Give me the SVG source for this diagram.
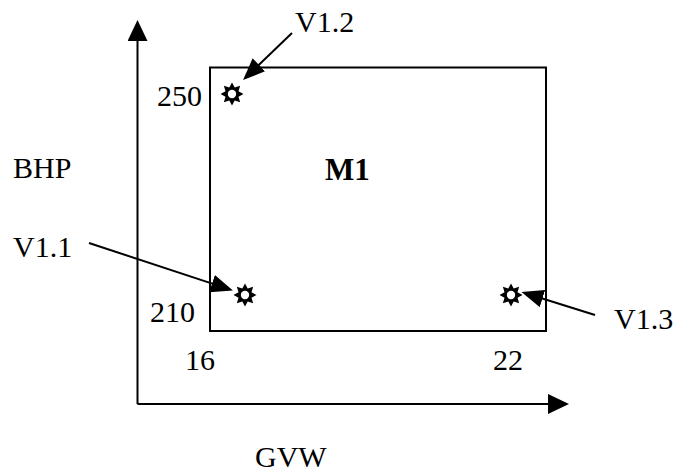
<svg xmlns="http://www.w3.org/2000/svg" xmlns:xlink="http://www.w3.org/1999/xlink" width="681" height="475" viewBox="0 0 681 475">
<style>
text{font-family:"Liberation Serif","Times New Roman",serif;font-size:30px;fill:#000}
.b{font-weight:bold;font-size:31px}
.ax{stroke:#000;stroke-width:2;fill:none}
.ar{stroke:#000;stroke-width:2;fill:none}
</style>
<defs>
<marker id="axh" markerUnits="userSpaceOnUse" markerWidth="21" markerHeight="20" refX="1" refY="10" orient="auto">
<path d="M0,0 L21,10 L0,20 Z" fill="#000"/>
</marker>
<marker id="ah" markerUnits="userSpaceOnUse" markerWidth="22" markerHeight="18" refX="1" refY="9" orient="auto">
<path d="M0,0 L22,9 L0,18 Z" fill="#000"/>
</marker>
<g id="star">
<polygon points="11.5,0 6.5,2.7 8.13,8.13 2.7,6.5 0,11.5 -2.7,6.5 -8.13,8.13 -6.5,2.7 -11.5,0 -6.5,-2.7 -8.13,-8.13 -2.7,-6.5 0,-11.5 2.7,-6.5 8.13,-8.13 6.5,-2.7" fill="#000"/>
<circle r="4.2" fill="#fff"/>
</g>
</defs>
<g id="axes">
<line class="ax" x1="137.5" y1="404" x2="137.5" y2="40" marker-end="url(#axh)"/>
<line class="ax" x1="137.5" y1="404" x2="549" y2="404" marker-end="url(#axh)"/>
</g>
<g id="M1">
<rect x="210" y="67.5" width="336" height="263.5" fill="none" stroke="#000" stroke-width="2"/>
<text class="b" x="325" y="180">M1</text>
</g>
<g id="V1.2"><use xlink:href="#star" x="232" y="94"/><text x="295" y="32">V1.2</text></g>
<g id="V1.1"><use xlink:href="#star" x="245" y="295"/><text x="13" y="257">V1.1</text></g>
<g id="V1.3"><use xlink:href="#star" x="511" y="295"/><text x="614" y="329">V1.3</text></g>
<g id="labels">
<text x="157" y="106">250</text>
<text x="150" y="322">210</text>
<text x="185" y="370">16</text>
<text x="493" y="370">22</text>
<text x="13" y="178">BHP</text>
<text x="255" y="467">GVW</text>
</g>
<g id="connectors">
<line class="ar" x1="292" y1="33" x2="258.2" y2="65.5" marker-end="url(#ah)"/>
<line class="ar" x1="89" y1="243" x2="213" y2="283.9" marker-end="url(#ah)"/>
<line class="ar" x1="595" y1="315" x2="541.5" y2="298.3" marker-end="url(#ah)"/>
</g>
</svg>
